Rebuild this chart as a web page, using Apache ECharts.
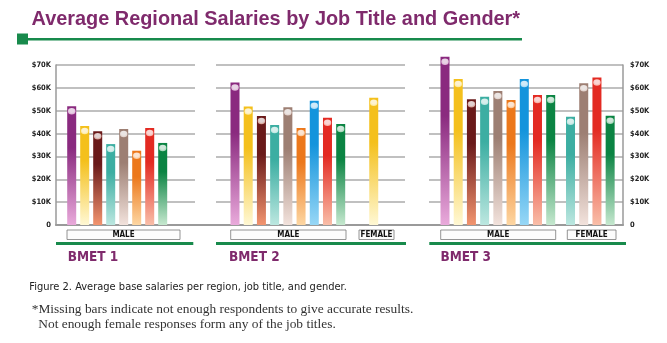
<!DOCTYPE html>
<html>
<head>
<meta charset="utf-8">
<script src="https://cdn.jsdelivr.net/npm/echarts@6/dist/echarts.min.js"></script>
<style>
html,body{margin:0;padding:0;background:#fff;}
#chart{width:667px;height:343px;}
</style>
</head>
<body>
<div id="chart"></div>
<script>
// ---------------- DATA ----------------
const titleText = 'Average Regional Salaries by Job Title and Gender*';
const jobTitles = ['Job title 1','Job title 2','Job title 3','Job title 4','Job title 5','Job title 6','Job title 7','Job title 8','Job title 9'];
const regions = ['BMET 1', 'BMET 2', 'BMET 3'];
const genders = ['MALE', 'FEMALE'];
const yTickValues = [0, 10000, 20000, 30000, 40000, 50000, 60000, 70000];
const yTickLabels = ['0', '$10K', '$20K', '$30K', '$40K', '$50K', '$60K', '$70K'];

const bmet1Male   = [52000, 43300, 41000, 35400, 42000, 32500, null, 42400, 35900];
const bmet1Female = [null, null, null, null, null, null, null, null, null];
const bmet2Male   = [62300, 51800, 47700, 43700, 51500, 42400, 54400, 46900, 44200];
const bmet2Female = [null, 55700, null, null, null, null, null, null, null];
const bmet3Male   = [73600, 63900, 55000, 56100, 58600, 54700, 63900, 56900, 56900];
const bmet3Female = [null, null, null, 47400, 62000, null, null, 64500, 47800];

const captionText = 'Figure 2. Average base salaries per region, job title, and gender.';
const noteLine1 = '*Missing bars indicate not enough respondents to give accurate results.';
const noteLine2 = 'Not enough female responses form any of the job titles.';

// ---------------- STYLE / LAYOUT ----------------
const barTop =    ['#8a2a7f','#f4c01c','#6a1a1a','#3caea2','#9d7f73','#ec781c','#1494dc','#e32a22','#0b8443'];
const barBottom = ['#e9aadb','#fff8d4','#f2946f','#bce7e0','#f2e2dc','#fdd6a2','#97d7f6','#f9bea8','#c6e8cf'];
const beadTint =  ['#f3cdea','#fff2b0','#f0b7a6','#d7f3ee','#f1e1db','#ffd2a6','#c5ebff','#ffc6b8','#bfe8cc'];

const purple = '#7f2a6c';
const green = '#188a4c';
const condensed = '"DejaVu Sans Condensed", "Liberation Sans Narrow", "Liberation Sans", sans-serif';

const panels = [
  { male: bmet1Male, female: bmet1Female, frameLeft: 56,  frameWidth: 139, barLeft: 68.45, slotW: 6.5,   femaleStart: null, axis: 'left'  },
  { male: bmet2Male, female: bmet2Female, frameLeft: 216, frameWidth: 189, barLeft: 231.7, slotW: 6.606, femaleStart: 21,   axis: 'none'  },
  { male: bmet3Male, female: bmet3Female, frameLeft: 429, frameWidth: 194, barLeft: 441.7, slotW: 6.606, femaleStart: 19,   axis: 'right' }
];
const plotTop = 65, plotHeight = 160;

function buildSlots(male, female, femaleStart) {
  const slots = [];
  let i = 0;
  male.forEach((v, k) => { if (v != null) { slots[i] = { v, k }; i += 2; } });
  if (femaleStart != null) {
    let j = femaleStart;
    female.forEach((v, k) => { if (v != null) { slots[j] = { v, k }; j += 2; } });
  }
  const out = [];
  for (let n = 0; n < slots.length; n++) out.push(slots[n] || null);
  return out;
}

function barGrad(k) {
  return new echarts.graphic.LinearGradient(0, 0, 0, 1, [
    { offset: 0, color: barTop[k] },
    { offset: 0.35, color: barTop[k] },
    { offset: 1, color: barBottom[k] }
  ]);
}
function beadGrad(k) {
  return new echarts.graphic.RadialGradient(0.5, 0.4, 0.6, [
    { offset: 0, color: '#ffffff' },
    { offset: 0.5, color: '#ffffff' },
    { offset: 1, color: beadTint[k] }
  ]);
}

const grid = [], xAxis = [], yAxis = [], series = [];

// base grid (continuous baseline)
grid.push({ left: 56, width: 567, top: plotTop, height: plotHeight });
xAxis.push({ gridIndex: 0, type: 'category', data: [''], axisLine: { show: true, lineStyle: { color: '#9a9a9a', width: 2 } }, axisTick: { show: false }, axisLabel: { show: false } });
yAxis.push({ gridIndex: 0, type: 'value', min: 0, max: 70000, show: false });

// frame grids (gridlines + y labels)
panels.forEach((p, idx) => {
  const gi = grid.length;
  grid.push({ left: p.frameLeft, width: p.frameWidth, top: plotTop, height: plotHeight });
  xAxis.push({ gridIndex: gi, type: 'category', data: [''], axisLine: { show: false }, axisTick: { show: false }, axisLabel: { show: false } });
  yAxis.push({
    gridIndex: gi, type: 'value', min: 0, max: 70000, interval: 10000,
    position: p.axis === 'right' ? 'right' : 'left',
    axisLine: { show: p.axis !== 'none', lineStyle: { color: '#9a9a9a', width: 1.5 } },
    axisTick: { show: false },
    axisLabel: {
      show: p.axis !== 'none',
      margin: p.axis === 'right' ? 7 : 5,
      fontFamily: condensed, fontWeight: 'bold', fontSize: 7.5, color: '#222',
      formatter: v => yTickLabels[yTickValues.indexOf(v)]
    },
    splitLine: { show: true, lineStyle: { color: '#ababab', width: 1.5 } }
  });
});

// bar grids
panels.forEach((p, idx) => {
  const slots = buildSlots(p.male, p.female, p.femaleStart);
  const gi = grid.length;
  grid.push({ left: p.barLeft, width: slots.length * p.slotW, top: plotTop, height: plotHeight });
  xAxis.push({ gridIndex: gi, type: 'category', data: slots.map((s, n) => s ? jobTitles[s.k] + ' ' + n : 'gap ' + n), show: false, boundaryGap: true });
  yAxis.push({ gridIndex: gi, type: 'value', min: 0, max: 70000, show: false });
  series.push({
    type: 'bar', name: regions[idx], xAxisIndex: gi, yAxisIndex: gi, barWidth: 9, clip: false, z: 3,
    data: slots.map(s => s ? { value: s.v, itemStyle: { color: barGrad(s.k) } } : '-')
  });
  series.push({
    type: 'scatter', xAxisIndex: gi, yAxisIndex: gi, clip: false, z: 4,
    symbol: 'circle', symbolSize: [7.5, 6.5], symbolOffset: [0, 5], silent: true,
    data: slots.map(s => s ? { value: s.v, itemStyle: { color: beadGrad(s.k) } } : '-')
  });
});

// ---------------- decorations ----------------
function txt(x, y, text, font, fill, align) {
  return { type: 'text', x, y, silent: true, style: { text, font, fill, textAlign: align || 'left', textVerticalAlign: 'middle', align: align || 'left', verticalAlign: 'middle' } };
}
function box(x1, x2, label) {
  return [
    { type: 'rect', shape: { x: x1, y: 230, width: x2 - x1, height: 9.5 }, style: { fill: '#fcfcfc', stroke: '#7a7a7a', lineWidth: 0.8 }, silent: true },
    txt((x1 + x2) / 2, 235, label, 'bold 8px ' + condensed, '#111', 'center')
  ];
}
function rule(x1, x2, y, w) {
  return { type: 'line', shape: { x1, y1: y, x2, y2: y }, style: { stroke: green, lineWidth: w }, silent: true };
}

const graphic = [
  txt(31.5, 19.7, titleText, 'bold 19.9px "Liberation Sans", Arial, sans-serif', purple),
  rule(22, 522, 39.3, 2.5),
  { type: 'rect', shape: { x: 17, y: 33.5, width: 11, height: 11 }, style: { fill: green }, silent: true },
  ...box(67, 180, genders[0]),
  ...box(230.7, 346, genders[0]),
  ...box(359, 394, genders[1]),
  ...box(440.7, 555.7, genders[0]),
  ...box(567.3, 616, genders[1]),
  rule(56, 193.3, 243.5, 3),
  rule(216, 406, 243.5, 3),
  rule(429.3, 626, 243.5, 3),
  txt(67.7, 257, regions[0], 'bold 13.5px ' + condensed, purple),
  txt(229, 257, regions[1], 'bold 13.5px ' + condensed, purple),
  txt(440.4, 257, regions[2], 'bold 13.5px ' + condensed, purple),
  txt(29.3, 287, captionText, '11px ' + condensed, '#222'),
  txt(31.7, 309, noteLine1, '13.4px "Liberation Serif", serif', '#333'),
  txt(38.3, 324, noteLine2, '13.4px "Liberation Serif", serif', '#333')
];

const chart = echarts.init(document.getElementById('chart'), null, { renderer: 'canvas' });
chart.setOption({
  animation: false,
  backgroundColor: '#ffffff',
  grid, xAxis, yAxis, series, graphic
});
</script>
</body>
</html>
